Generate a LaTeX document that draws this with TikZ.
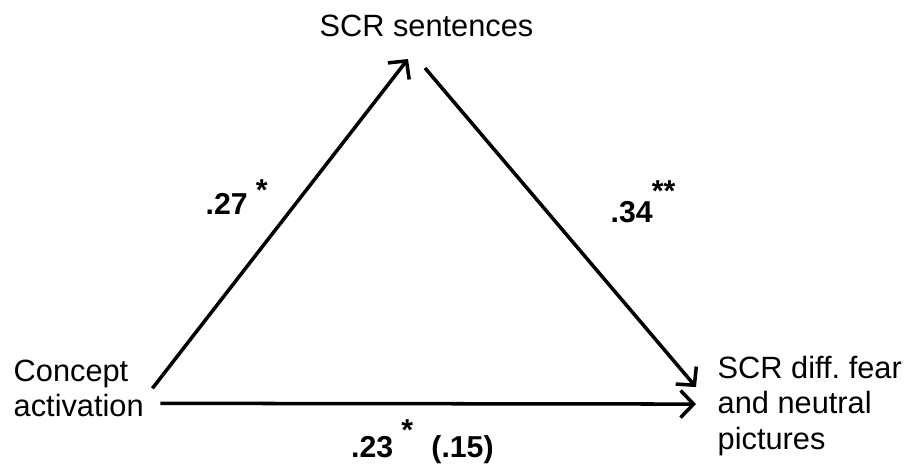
\documentclass[tikz,border=0pt]{standalone}
\usepackage{fontspec}
\setmainfont{Liberation Sans}
\usetikzlibrary{arrows.meta,calc}
\tikzset{
  lbl/.style={inner sep=0pt, font=\fontsize{8.75pt}{10.1pt}\selectfont},
  coef/.style={inner sep=0pt, anchor=base west, font=\fontsize{8.6pt}{10pt}\selectfont\bfseries},
  parr/.style={-{Straight Barb[length=0.13cm,width=0.27cm]}, line width=1pt},
}
% stars raised above a path coefficient
\newcommand{\sig}[3]{\hspace{#1}\raisebox{#2}{#3}}

\begin{document}
\begin{tikzpicture}[x=0.01cm,y=-0.01cm]
\useasboundingbox (0,0) rectangle (906,476);
% variables
\node[lbl, anchor=base] (scr) at (426.5,37) {SCR sentences};
\node[lbl, anchor=north west, align=left] (concept) at (13,359) {Concept\\activation};
\node[lbl, anchor=north west, align=left] (fear) at (717,355) {SCR diff.\ fear\\and neutral\\pictures};
% paths
\draw[parr] ($(concept.east)+(8,0)$) -- ($(scr.south)+(-18.5,21)$);
\draw[parr] ($(scr.south)+(-1.5,30)$) -- ($(fear.west)+(-21,-18.5)$);
\draw[parr] ($(concept.east)+(16,15)$) -- ($(fear.west)+(-21,-1.5)$);
% coefficients
\node[coef] (c27) at (205,215) {.27\sig{0.08cm}{0.14cm}{*}};
\node[coef] (c34) at (610,222) {.34\sig{-0.01cm}{0.20cm}{**}};
\node[coef] (c23) at (350.5,457) {.23\sig{0.08cm}{0.16cm}{*}\hspace{0.1cm} (.15)};
\end{tikzpicture}
\end{document}
